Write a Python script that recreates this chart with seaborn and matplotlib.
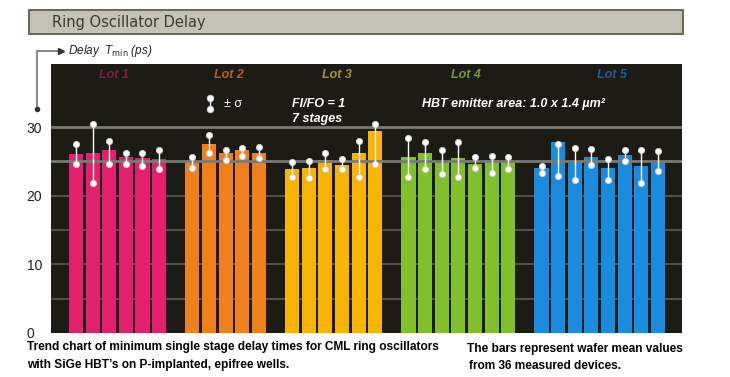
import numpy as np
import pandas as pd
import matplotlib.pyplot as plt
from matplotlib.lines import Line2D
from matplotlib.patches import Rectangle
import seaborn as sns

# wafer means and the +/- sigma ends (ps)
lots = ['Lot 1', 'Lot 2', 'Lot 3', 'Lot 4', 'Lot 5']
lot1_mean = [26.1, 26.2, 26.6, 25.6, 25.5, 25.4]
lot1_lo = [24.6, 21.8, 24.7, 24.6, 24.3, 23.9]
lot1_hi = [27.5, 30.5, 28.0, 26.2, 26.2, 26.6]
lot2_mean = [25.0, 27.6, 26.2, 26.7, 26.3]
lot2_lo = [24.0, 26.3, 25.2, 25.8, 25.5]
lot2_hi = [25.7, 28.9, 26.7, 27.0, 27.1]
lot3_mean = [23.9, 24.1, 25.2, 24.5, 26.2, 29.4]
lot3_lo = [22.7, 22.6, 23.9, 23.9, 22.7, 24.7]
lot3_hi = [24.9, 25.1, 26.2, 25.3, 28.0, 30.5]
lot4_mean = [25.7, 26.2, 25.0, 25.5, 24.7, 25.2, 25.1]
lot4_lo = [22.7, 23.9, 23.2, 22.8, 24.1, 23.3, 23.9]
lot4_hi = [28.4, 27.9, 26.7, 27.8, 25.7, 25.8, 25.7]
lot5_mean = [24.1, 27.8, 24.9, 25.7, 24.1, 26.0, 24.4, 25.0]
lot5_lo = [23.3, 22.9, 22.3, 24.5, 22.3, 25.0, 21.8, 23.6]
lot5_hi = [24.4, 27.5, 27.0, 26.8, 25.4, 26.7, 26.6, 26.5]

bar_colors = ['#e4206e', '#f0801c', '#f8b400', '#80c02a', '#1a8ce0']
label_colors = ['#8c1a48', '#b0602a', '#a89428', '#789c34', '#245c98']
yticks = [0, 10, 20, 30]

means = [lot1_mean, lot2_mean, lot3_mean, lot4_mean, lot5_mean]
los = [lot1_lo, lot2_lo, lot3_lo, lot4_lo, lot5_lo]
his = [lot1_hi, lot2_hi, lot3_hi, lot4_hi, lot5_hi]

# one empty slot between lots
rows = []
slot = 0
centers = []
for lot, m, lo, hi in zip(lots, means, los, his):
    start = slot
    for a, b, c in zip(m, lo, hi):
        rows.append(dict(lot=lot, slot=slot, delay=a, lo=b, hi=c))
        slot += 1
    centers.append((start + slot - 1) / 2)
    slot += 1
df = pd.DataFrame(rows)

sns.set_style('white')
plt.rcParams['font.family'] = ['Liberation Sans', 'DejaVu Sans']

W, H = 730, 377
fig = plt.figure(figsize=(7.3, 3.77), dpi=100)
ax = fig.add_axes([51 / W, 1 - 333 / H, 631 / W, 269 / H])
ax.set_facecolor('#1c1b16')

for v in [5, 10, 15, 20]:
    ax.axhline(v, color='#5c5c58', lw=1.2, zorder=1)
for v in [25, 30]:
    ax.axhline(v, color='#7a7a74', lw=2, zorder=3)

sns.barplot(data=df, x='slot', y='delay', hue='lot', palette=dict(zip(lots, bar_colors)),
            native_scale=True, width=0.85, dodge=False, saturation=1, legend=False,
            ax=ax, zorder=2, linewidth=0, edgecolor='none')

ax.vlines(df['slot'], df['lo'], df['hi'], color='white', lw=1, zorder=4)
ends = pd.concat([df[['slot', 'lo']].rename(columns={'lo': 'v'}),
                  df[['slot', 'hi']].rename(columns={'hi': 'v'})])
sns.scatterplot(data=ends, x='slot', y='v', color='white', s=20, edgecolor='#d0d0d0',
                linewidth=0.6, zorder=5, ax=ax, legend=False)

ax.set_xlim(-1.5, 36.45)
ax.set_ylim(0, 39.2)
ax.set_xticks([])
ax.set_yticks(yticks)
ax.set_xlabel('')
ax.set_ylabel('')
ax.tick_params(axis='y', length=0, pad=17.5, labelsize=10, labelcolor='#222222')
for t in ax.get_yticklabels():
    t.set_horizontalalignment('left')
for s in ax.spines.values():
    s.set_visible(False)

# lot names
offsets = [-0.2, 0.2, 0.2, 0.45, 0.75]
for lot, c, col, off in zip(lots, centers, label_colors, offsets):
    ax.text(c + off, 37.6, lot, color=col, fontsize=9, fontweight='bold', style='italic',
            ha='center', va='center')

# sigma key
ax.plot([8.05, 8.05], [32.6, 34.2], color='white', lw=1, zorder=4)
sns.scatterplot(x=[8.05, 8.05], y=[32.6, 34.2], color='white', s=22, edgecolor='#d0d0d0',
                linewidth=0.6, zorder=5, ax=ax, legend=False)
ax.text(8.9, 33.4, '± σ', color='white', fontsize=9, va='center')

ax.text(13.0, 33.4, 'FI/FO = 1', color='white', fontsize=9, fontweight='bold',
        style='italic', va='center')
ax.text(13.0, 31.25, '7 stages', color='white', fontsize=9, fontweight='bold',
        style='italic', va='center')
ax.text(20.8, 33.4, 'HBT emitter area: 1.0 x 1.4 µm²', color='white', fontsize=9,
        fontweight='bold', style='italic', va='center')

# header bar
fig.patches.append(Rectangle((29 / W, 1 - 34 / H), 654 / W, 24 / H, transform=fig.transFigure,
                             facecolor='#c4c2b4', edgecolor='#6c6a5c', lw=1.5))
fig.text(52 / W, 1 - 22 / H, 'Ring Oscillator Delay', fontsize=10.5, color='#3a3a3a',
         va='center', family='DejaVu Sans')

# y axis label with arrow
fig.add_artist(Line2D([37 / W, 37 / W, 59 / W], [1 - 109 / H, 1 - 51 / H, 1 - 51 / H],
                      transform=fig.transFigure, color='#8a8a8a', lw=1.5))
fig.add_artist(Line2D([61 / W], [1 - 51 / H], transform=fig.transFigure, marker='>',
                      markersize=5, color='#333333', lw=0))
fig.add_artist(Line2D([37 / W], [1 - 109 / H], transform=fig.transFigure, marker='o',
                      markersize=3, color='#333333', lw=0))
fig.text(68 / W, 1 - 51 / H, r'Delay  T$_{\rm min}$ (ps)', fontsize=8.5, style='italic',
         color='#222222', va='center')

# captions
cap = dict(fontsize=8.6, fontweight='bold', color='black', va='center')
fig.text(27 / W, 1 - 347 / H, 'Trend chart of minimum single stage delay times for CML ring oscillators', **cap)
fig.text(27 / W, 1 - 365 / H, 'with SiGe HBT’s on P-implanted, epifree wells.', **cap)
fig.text(467 / W, 1 - 349 / H, 'The bars represent wafer mean values', **cap)
fig.text(469 / W, 1 - 366 / H, 'from 36 measured devices.', **cap)

fig.savefig('out.png', dpi=100)
